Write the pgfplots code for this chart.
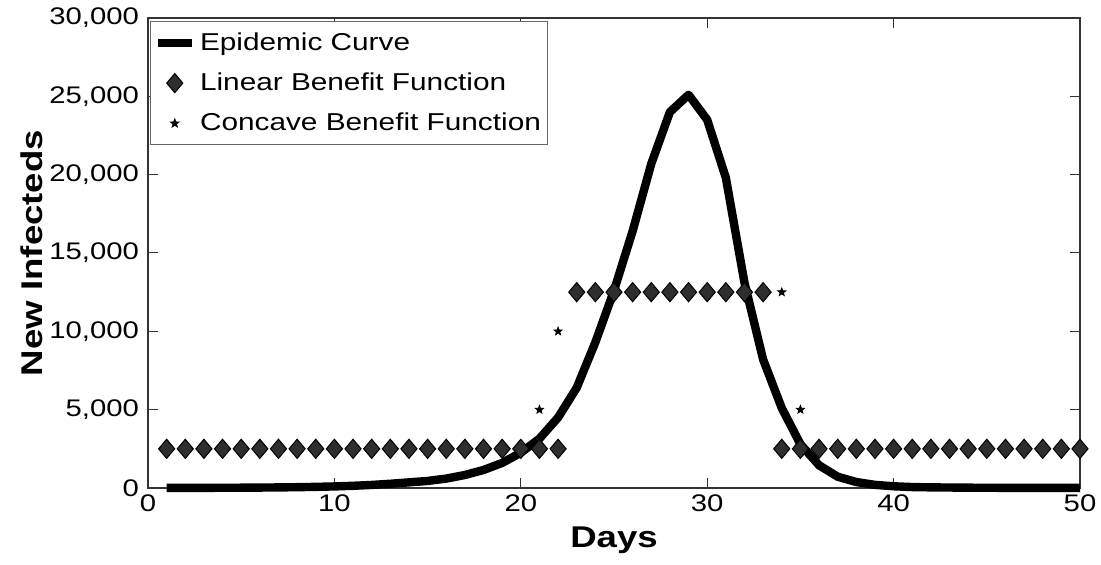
\documentclass[border=0pt]{standalone}
\usepackage{fontspec}
\setmainfont[FakeStretch=1.22]{Liberation Sans}
\usepackage{pgfplots}
\pgfplotsset{compat=1.18}

% filled five-pointed star mark
\pgfdeclareplotmark{pentastar}{%
  \pgfpathmoveto{\pgfpointpolar{90}{\pgfplotmarksize}}%
  \pgfpathlineto{\pgfpointpolar{126}{0.42\pgfplotmarksize}}%
  \pgfpathlineto{\pgfpointpolar{162}{\pgfplotmarksize}}%
  \pgfpathlineto{\pgfpointpolar{198}{0.42\pgfplotmarksize}}%
  \pgfpathlineto{\pgfpointpolar{234}{\pgfplotmarksize}}%
  \pgfpathlineto{\pgfpointpolar{270}{0.42\pgfplotmarksize}}%
  \pgfpathlineto{\pgfpointpolar{306}{\pgfplotmarksize}}%
  \pgfpathlineto{\pgfpointpolar{342}{0.42\pgfplotmarksize}}%
  \pgfpathlineto{\pgfpointpolar{18}{\pgfplotmarksize}}%
  \pgfpathlineto{\pgfpointpolar{54}{0.42\pgfplotmarksize}}%
  \pgfpathclose
  \pgfusepathqfillstroke}

\begin{document}
\begin{tikzpicture}
\useasboundingbox (-74pt,-38.5pt) rectangle (476.5pt,244pt);
\begin{axis}[
  scale only axis,
  width=466pt, height=235pt,
  xmin=0, xmax=50, ymin=0, ymax=30000,
  xtick={0,10,20,30,40,50},
  ytick={0,5000,10000,15000,20000,25000,30000},
  scaled y ticks=false,
  /pgf/number format/.cd, 1000 sep={,}, assume math mode=true, /pgfplots/.cd,
  tick align=inside,
  major tick length=5pt,
  tick style={black!80, line width=0.5pt},
  axis line style={black!80, line width=0.6pt},
  tick label style={font=\fontsize{12}{14}\selectfont},
  yticklabel style={xshift=-1pt},
  xticklabel style={yshift=0pt},
  xlabel={Days},
  ylabel={New Infecteds},
  xlabel style={font=\fontsize{15}{17}\selectfont\bfseries,
    at={(rel axis cs:0.5,0)}, anchor=north, inner sep=0pt, yshift=-19pt},
  ylabel style={font=\fontsize{15}{17}\selectfont\bfseries,
    at={(rel axis cs:0,0.5)}, anchor=center, yshift=58pt},
  clip=false,
  legend cell align=left,
  legend style={at={(rel axis cs:0,1)}, anchor=north west,
    xshift=1pt, yshift=-1.5pt,
    draw=black!60, line width=0.5pt,
    font=\fontsize{12.2}{14}\selectfont,
    row sep=5.8pt, inner xsep=1.5pt, inner ysep=3.5pt,
    nodes={inner xsep=2pt}},
]
% epidemic curve
\addplot[black, line width=4.2pt, line join=round] coordinates {
 (1,5) (2,7) (3,10) (4,14) (5,19) (6,27) (7,37) (8,52) (9,72) (10,100)
 (11,140) (12,195) (13,270) (14,360) (15,450) (16,600) (17,830) (18,1150)
 (19,1600) (20,2250) (21,3150) (22,4500) (23,6400) (24,9300) (25,12600)
 (26,16400) (27,20700) (28,24000) (29,25100) (30,23500) (31,19800)
 (32,13100) (33,8200) (34,5100) (35,2800) (36,1450) (37,720) (38,380)
 (39,200) (40,110) (41,60) (42,40) (43,30) (44,20) (45,15) (46,10)
 (47,8) (48,6) (49,5) (50,4)
};
\addlegendentry{Epidemic Curve}
% concave benefit function
\addplot[only marks, mark=pentastar, mark size=2.1pt, black, forget plot] coordinates {
 (1,2500) (2,2500) (3,2500) (4,2500) (5,2500) (6,2500) (7,2500) (8,2500)
 (9,2500) (10,2500) (11,2500) (12,2500) (13,2500) (14,2500) (15,2500)
 (16,2500) (17,2500) (18,2500) (19,2500) (20,2500) (21,5000) (22,10000)
 (23,12500) (24,12500) (25,12500) (26,12500) (27,12500) (28,12500)
 (29,12500) (30,12500) (31,12500) (32,12500) (33,12500) (34,12500)
 (35,5000) (36,2500) (37,2500) (38,2500) (39,2500) (40,2500) (41,2500)
 (42,2500) (43,2500) (44,2500) (45,2500) (46,2500) (47,2500) (48,2500)
 (49,2500) (50,2500)
};
% linear benefit function
\addplot[only marks, mark=diamond*, mark size=4.8pt,
  mark options={fill=black!82, draw=black, line width=0.5pt, xscale=1.12}] coordinates {
 (1,2500) (2,2500) (3,2500) (4,2500) (5,2500) (6,2500) (7,2500) (8,2500)
 (9,2500) (10,2500) (11,2500) (12,2500) (13,2500) (14,2500) (15,2500)
 (16,2500) (17,2500) (18,2500) (19,2500) (20,2500) (21,2500) (22,2500)
 (23,12500) (24,12500) (25,12500) (26,12500) (27,12500) (28,12500)
 (29,12500) (30,12500) (31,12500) (32,12500) (33,12500) (34,2500)
 (35,2500) (36,2500) (37,2500) (38,2500) (39,2500) (40,2500) (41,2500)
 (42,2500) (43,2500) (44,2500) (45,2500) (46,2500) (47,2500) (48,2500)
 (49,2500) (50,2500)
};
\addlegendentry{Linear Benefit Function}
\addlegendimage{only marks, mark=pentastar, mark size=2.1pt, black}
\addlegendentry{Concave Benefit Function}
\end{axis}
\end{tikzpicture}
\end{document}
